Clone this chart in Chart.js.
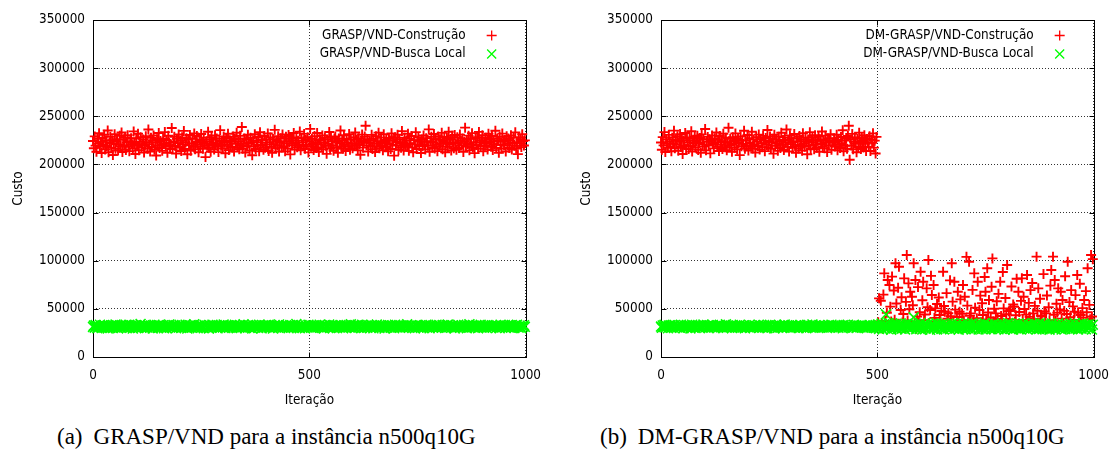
<!DOCTYPE html>
<html><head><meta charset="utf-8">
<script src="https://cdn.jsdelivr.net/npm/chart.js@4.4.0/dist/chart.umd.min.js"></script>
<style>
html,body{margin:0;padding:0;background:#fff;overflow:hidden;width:1119px;height:454px;position:relative;}
.wrap{position:absolute;top:0;width:551px;height:417px;}
.cap{position:absolute;top:424px;font-family:'Liberation Serif','Times New Roman',serif;font-size:23px;line-height:26px;white-space:nowrap;color:#000;}
.gap{display:inline-block;width:11px;}
</style></head><body>
<div class="wrap" style="left:0"><canvas id="cA" width="551" height="417"></canvas></div>
<div class="wrap" style="left:568px"><canvas id="cB" width="551" height="417"></canvas></div>
<div class="cap" id="capA" style="left:57px">(a)<span class="gap"></span>GRASP/VND para a instância n500q10G</div>
<div class="cap" id="capB" style="left:600px">(b)<span class="gap"></span>DM-GRASP/VND para a instância n500q10G</div>
<script>
// ---------- DATA ----------
const xTicks = [0, 500, 1000];
const yTicks = [0, 50000, 100000, 150000, 200000, 250000, 300000, 350000];
const labelsA = ['GRASP/VND-Construção', 'GRASP/VND-Busca Local'];
const labelsB = ['DM-GRASP/VND-Construção', 'DM-GRASP/VND-Busca Local'];
const xTitle = 'Iteração';
const yTitle = 'Custo';

// iterations sampled every 2 (0..998)
const iterations = Array.from({length: 500}, (_, i) => i * 2);

const constrA = [
224300,216800,229100,219500,213200,226700,221900,232400,218300,223600,211800,227400,220200,230900,215600,224900,219100,235200,212700,222300,
228600,217400,225100,209800,221700,231300,216200,223900,226300,214500,220800,229700,218900,233100,212900,225600,219900,227900,215100,222700,
230400,218600,213800,224100,227200,220600,216900,234300,222200,210900,226900,219300,231800,214700,223400,228200,217700,221100,225900,212300,
219700,229300,223100,216400,236200,220900,213500,227600,218100,224700,230100,215300,222900,209200,226100,219600,232700,217100,224400,220300,
214100,227100,221300,233600,218700,225300,212100,229900,222600,216600,220100,237800,215900,223700,228800,219200,211400,226500,222100,231100,
217900,224600,213900,228100,220700,234800,216100,222800,227300,210600,225800,219800,230600,214300,221600,226600,218400,232200,215700,223300,
229500,220400,212600,225400,218200,231600,223200,216300,227800,221400,207600,224200,219400,233900,217300,226200,213100,228400,220900,222500,
215400,230200,221200,226800,218800,212800,224800,235600,219300,223800,216700,229000,222400,211600,227500,220500,231900,214900,225200,218500,
223500,217600,228900,213400,226400,221500,232900,218000,224000,215800,229800,220000,238900,216400,222000,227000,212400,225700,219000,230800,
221800,214400,227700,223000,209600,225000,218600,231400,216000,224500,220200,228500,213700,233400,219500,226000,222600,215200,229600,217200,
225500,220800,232100,214000,223200,227900,218200,212000,226300,221000,235900,216800,224300,219700,229200,213300,222800,227200,217500,231200,
218900,224100,213600,228700,221700,216500,230500,223400,210400,226900,219900,225000,232700,215500,222200,228000,217900,224700,220600,234100,
214700,227300,222900,219100,231700,216200,225300,220300,228300,212500,223900,236900,218400,226700,221200,215000,229400,223000,217000,232600,
220700,213000,226100,224500,218000,230000,215700,222400,227600,219300,211000,225900,221600,233700,216600,228600,220100,224000,214200,226800,
229100,217800,223600,212200,227000,221900,235300,218700,224900,216300,230300,220500,213900,226400,222700,219000,231500,215300,225600,221300,
216800,228100,222000,233200,219400,225800,214600,227100,220900,210100,224400,231000,217400,223100,228900,240200,219800,226200,213500,222500,
224700,219100,230700,215900,226600,221400,212900,229300,218500,224200,233000,216700,222300,227800,220000,214800,231300,223700,218100,225400,
221900,213700,227400,224800,216100,232300,220400,225100,209100,228200,219600,223300,230900,215100,226000,221700,217300,234600,222900,214500,
227700,220200,224600,218300,231900,214100,226500,222100,229500,217700,212700,225200,220800,233500,216000,224900,228000,219200,223800,211900,
225900,218800,230100,221100,215600,227200,223500,219500,236400,213200,224100,228800,217600,222600,231600,216500,226300,220600,213800,229000,
219000,226100,221500,232800,215800,224300,228500,212600,222200,227500,218200,234000,220700,225600,214400,229700,223100,216900,230600,221800,
215200,228300,222500,217000,231000,224600,219700,226800,213000,223400,238200,218600,225500,221200,229900,214600,227000,220300,232500,217500,
223000,211700,226700,220100,228400,216200,233800,222800,218900,225000,230400,213600,224000,219400,227600,221600,215500,231800,222400,226400,
218300,229600,214900,223900,221000,235000,217200,226600,224700,212200,228700,220400,216600,232000,223600,219900,225300,213400,229300,221400,
226900,217100,224500,230200,215400,222300,227900,219300,233300,216400,223200,210700,228100,221900,225700,218000,231400,224200,219600,225000
];

const buscaA = [
31200,32600,30400,33100,31800,29900,32300,30900,33500,31500,30200,32800,31000,33300,30700,32000,31400,29700,32900,31700,
30500,33000,31900,30100,32500,31300,33700,30800,32100,29800,31600,32700,30300,33200,31100,32400,30600,31900,33600,30000,
32200,31000,33400,30400,31700,32900,29600,31500,32600,30900,33100,31300,30100,32300,31800,34300,30700,32000,31200,33000,
29900,32500,31100,30600,33300,31900,30300,32800,31400,29700,32100,33500,30800,31600,32400,30200,33200,31000,32700,30500,
31800,33000,30000,32200,31300,29800,32900,31500,33800,30600,32000,31100,30400,33100,31700,32600,29900,31200,32300,30900,
33400,31400,30200,32700,31000,32100,30700,33600,31600,29600,32400,30900,33000,31800,30300,32800,31300,34100,30600,32000,
31500,29900,32600,31100,33200,30400,32200,31700,30000,33300,31900,32500,30800,31200,29700,32900,31400,30500,33500,32100,
30700,32300,31800,33100,29800,31600,32800,30300,31900,32400,30900,33700,31300,30100,32000,31500,33000,30600,32700,31100,
32900,30200,31400,32100,33400,31000,29900,32600,31700,30500,33100,31200,32300,30800,34000,31600,30000,32500,31900,33200,
31300,32700,30600,31800,29700,33300,32000,30400,31500,32800,31100,30200,33600,31700,32200,29800,31400,32900,30700,33000,
30900,32400,31600,33500,30100,31900,32600,31200,29600,32100,33200,30800,31500,32700,30300,33800,31000,32300,31700,30500,
32500,31100,30700,33000,31800,32200,30000,31400,33300,30600,32900,31600,30200,32000,31300,34200,30900,32400,31000,29900,
31700,33100,30400,32300,31500,29800,32800,31100,30600,33400,31900,32100,30300,31800,32600,30100,33000,31300,32500,31600,
30800,32000,33500,31200,30500,32700,31700,29700,33200,31400,32400,30900,31600,33700,30200,32200,31000,32900,30700,31900,
33000,31500,30100,32500,31800,30600,33300,31300,32000,29900,31600,32800,30400,33100,31200,32300,30800,31700,34000,30300,
31400,32900,31000,30200,32600,31900,33600,30700,31500,32100,30000,33400,31800,32400,30600,31100,32700,30300,33200,31600,
32100,30500,33100,31700,29800,32500,31300,30900,33700,31400,32200,30100,31900,33000,30800,32600,31500,29600,32000,31200,
30600,33300,31800,32400,30300,31000,32900,31600,30000,33500,31200,32700,30700,31900,33200,30400,32300,31400,30900,32800,
31900,30800,32200,33900,31100,30400,32600,31700,33000,30200,31500,32100,29900,33300,31800,32500,30600,31200,32900,31000,
32400,31300,30000,32800,31600,33400,30700,32000,31200,29800,33100,31900,32300,30500,31400,32700,30900,33600,31700,30300,
31100,32600,31500,30600,33200,31800,32100,30100,31300,32900,33700,30800,31600,32400,30300,31900,33000,31000,29700,32200,
30900,31700,33500,32000,30400,31200,32800,31500,30700,33300,31800,32200,30000,31400,32600,34100,30600,31900,32300,31100,
32700,30300,31600,33100,31900,29900,32400,31000,33400,30800,32000,31300,30500,32900,31700,30200,33200,31500,32100,30600,
31300,33000,30900,32300,31600,32700,30100,31800,32500,31100,29800,33500,31400,30700,32200,31900,33100,30400,31700,32600,
30800,31500,32900,30500,33300,31200,32000,30200,31800,32400,33600,31000,30600,32700,31300,29900,32100,31600,33000,31400
];

// DM-GRASP construction: iterations 0..498 (before mining)
const constrB_phase1 = [
222800,215300,228400,219800,233600,212900,226300,221500,217200,230700,224100,218500,213700,227800,222000,235100,216900,225400,220600,229300,
214200,223700,231500,218100,226500,210800,224900,220100,232600,216400,228000,222700,215900,226900,219200,234400,213300,225100,221800,228900,
217600,224300,229800,215100,222300,227400,212200,231200,220800,225900,218700,236800,214600,223400,228600,219700,226100,211500,224600,230000,
221200,216700,227100,222900,233100,218300,225600,213900,229500,220400,224000,216000,231800,223000,217900,227700,214800,222500,238100,219500,
226700,220900,213100,228200,224400,217400,232200,221600,215600,226400,223200,209700,229100,218900,225200,221300,234900,216200,224700,220000,
230500,214500,227300,222200,218600,233900,216600,225800,220700,212400,228400,223800,219100,231000,215400,226300,222100,217800,229700,224800,
213800,227500,220300,235700,218000,224200,229000,216300,222600,226600,211200,230800,219400,225500,221700,214100,228700,223500,217100,232900,
220500,225300,215000,228100,222400,236300,218200,224600,213500,230200,221100,226900,217600,223300,231600,219000,212100,227200,224100,216500,
229400,220200,225700,214300,232400,221900,218400,227600,223700,210500,226000,219800,233500,216100,224900,228300,222800,215700,230400,220900,
217300,224500,228800,213200,226200,221400,234200,218800,225000,216800,229900,223100,212800,227000,219900,224300,231300,215200,222700,222900,
226800,218700,223900,230900,214700,225400,220500,217000,228500,222100,235500,213600,224800,219300,227400,216400,229600,240100,204800,225800,
219600,231700,215800,223600,227900,221800,212600,226500,218100,233000,222600,216100,228000,224400,217700,230300,221300,214000,226400,223200,
218400,229200,213900,225900,222500,232300,217500,224700,211300,228600
];

// DM-GRASP construction: iterations 500..998 (after mining)
const constrB_phase2 = [
33500,36200,60900,31800,58400,35100,29700,64800,86900,37400,
34200,45900,80000,30600,74800,52300,36900,83500,32800,69100,
38700,97300,55600,33100,71900,93800,30100,48800,62100,35800,
44700,81700,31200,57300,105900,37900,76500,49600,67800,32400,
62600,53800,97300,34700,80000,29400,41900,72600,36100,46500,
88600,33700,58900,78200,38300,44100,30800,71300,51700,100700,
35400,48800,84300,64400,32100,74800,40600,50500,36700,55100,
31500,61800,43600,37200,47800,33900,88600,52900,47000,30400,
66300,39800,45400,34600,79600,42300,97300,57500,36400,78200,
49200,31900,41500,67800,35600,47000,59800,32700,44900,74800,
38100,62600,30900,104000,53400,36300,99000,42800,45300,33300,
69700,37600,86900,51200,34400,40200,78200,29800,48800,63700,
35900,55800,43600,31400,83100,67800,38900,92100,46200,59200,
33000,41100,72900,102400,36800,50100,30300,45300,57900,39400,
65600,34900,78200,42600,37100,88300,50500,32600,61300,44400,
95500,35300,47600,39100,48800,73200,31100,54600,52200,36600,
43300,81200,34100,67800,46800,30700,58300,81700,38400,62600,
49900,32300,44000,85200,37700,56200,41700,69500,33600,76900,
45300,39600,53100,31000,104200,48100,71300,35200,60500,42900,
41900,34000,86100,47300,36500,45300,63900,30200,51600,38000,
74100,90300,33800,104200,43900,80000,37300,55300,46100,71300,
32900,49400,67800,39900,59200,35000,47900,83800,31600,44600,
99000,36000,57000,41300,69500,33200,52600,38600,47000,64300,
30500,85200,45800,37800,76100,43600,34300,50800,40900,59200,
32000,68400,46400,92100,35500,54100,39300,105900,42100,101600
];

// DM-GRASP local search: iterations 0..498
const buscaB_phase1 = [
31600,30300,32800,31100,33400,30700,32200,31800,29800,32600,31300,33000,30500,31900,32400,30100,33300,31500,32000,30900,
32900,31200,30400,33600,31700,32300,30000,31400,32700,31000,33100,30600,31800,32500,29700,31300,33500,30800,32100,31600,
30200,32400,31900,33200,30700,31500,32800,31100,30300,33700,31800,32200,30900,31400,32600,30000,33000,31700,32300,31200,
33300,30600,31800,32100,31000,32900,30400,31600,33400,30800,32500,31300,29900,32000,31500,34000,30500,32700,31100,31900,
31400,32600,30100,33100,31900,30700,32300,31200,32800,30300,31700,33500,31000,32400,30600,31600,32900,29800,32200,31300,
32000,31500,33300,30200,31800,32700,31100,30500,33000,31700,32100,30900,31400,33600,30400,32500,31200,32000,30800,33200,
30600,32300,31600,30000,32800,31900,33400,31000,30700,32200,31500,29700,33100,31800,32400,30300,31300,32900,31700,30900,
32500,31200,30400,33700,31600,32000,30800,31900,32600,31100,30200,33200,31400,32300,30600,31800,33000,31000,32700,30100,
31900,33100,30700,32200,31300,30500,32800,31700,29900,33400,31100,32400,30900,31600,32100,33800,30300,31500,32600,31000,
30800,32000,31500,33300,30400,31800,32500,31200,30600,33000,31900,32200,30100,31400,32900,31100,30700,33500,31700,32300,
31300,30900,32700,31600,33100,30300,32100,31800,31000,32400,29800,33200,31500,30600,32000,31900,33600,30800,31400,32600,
32200,31100,30500,33400,31700,32800,30200,31300,32500,31800,30900,32100,33000,31500,30400,31900,32700,31200,30000,32400,
31600,33300,30700,32000,31400,32600,30300,31800,33100,31000
];

// DM-GRASP local search: iterations 500..998
const buscaB_phase2 = [
30400,33800,29100,32600,31200,34700,28700,31900,33100,30000,44300,29600,32300,35200,30800,33500,28400,31600,34100,29900,
32800,30600,34400,28900,31400,33200,30100,35000,29300,32500,31000,33900,28600,31800,34600,30300,32100,29500,33400,31100,
29800,33600,41200,31500,34200,28800,32700,30500,33000,29200,35300,31300,28500,32400,30900,34500,29700,32000,33700,30200,
31700,28300,33300,30700,34900,29400,32200,31000,35400,28700,31900,33800,30400,32900,29000,34300,31200,28600,33100,30800,
34000,29600,32400,31400,28900,33500,30300,35100,31800,29300,32600,30000,34700,31100,28400,33200,30600,32300,29700,34400,
30900,33000,28800,32100,34800,29900,31600,33700,30200,28500,35000,31300,32800,29400,33900,30700,31800,28700,34200,30100,
32500,29100,33400,31000,35300,28600,32000,30600,34100,29800,31500,33300,28900,32700,30400,34600,29500,31900,33600,30000,
28800,33100,31700,29300,34500,30800,32300,28400,33800,31200,29600,35200,30500,32600,29000,34000,31400,28700,33000,30300,
33700,30100,32100,34900,29200,31800,28500,33400,30700,35100,29700,32400,31100,28900,34300,30400,32800,29400,33200,31600,
29900,34700,30600,32200,28600,33600,31300,29100,35400,30200,32900,28800,33900,31500,30000,34400,29300,32500,31000,28400,
33300,30900,34800,29500,32000,31700,28700,33500,30400,35000,29800,32700,31200,28500,34100,30600,32300,29000,33800,31400,
30000,32600,29200,34600,31100,28900,33100,30500,35300,29600,32200,31800,28600,34000,30800,33400,29400,31500,34900,30200,
32900,28800,33700,31300,29700,34300,30600,32400,28500,33600
];

const constrB = constrB_phase1.concat(constrB_phase2);
const buscaB = buscaB_phase1.concat(buscaB_phase2);

// ---------- STYLE ----------
const FONT_FAMILY = "'DejaVu Sans Condensed', 'DejaVu Sans', sans-serif";
const FONT_SIZE = 13.4;
const font = {family: FONT_FAMILY, size: FONT_SIZE};

function pts(vals) { return vals.map((v, i) => ({x: iterations[i], y: v})); }

const framePlugin = {
  id: 'gnuFrame',
  beforeDatasetsDraw(chart) {
    const {ctx, chartArea: a, scales: {x, y}} = chart;
    const L = Math.round(a.left) + 0.5, R = Math.round(a.right) + 0.5;
    const T = Math.round(a.top) + 0.5, B = Math.round(a.bottom) + 0.5;
    ctx.save();
    ctx.strokeStyle = '#000';
    ctx.lineWidth = 1;
    ctx.setLineDash([]);
    ctx.strokeRect(L, T, R - L, B - T);
    ctx.beginPath();
    x.ticks.forEach(t => {
      const px = Math.round(x.getPixelForValue(t.value)) + 0.5;
      ctx.moveTo(px, B); ctx.lineTo(px, B - 5);
      ctx.moveTo(px, T); ctx.lineTo(px, T + 5);
    });
    y.ticks.forEach(t => {
      const py = Math.round(y.getPixelForValue(t.value)) + 0.5;
      ctx.moveTo(L, py); ctx.lineTo(L + 5, py);
      ctx.moveTo(R, py); ctx.lineTo(R - 5, py);
    });
    ctx.stroke();
    ctx.restore();
  }
};

const keyPlugin = {
  id: 'gnuKey',
  afterDraw(chart) {
    const {ctx, chartArea: a} = chart;
    ctx.save();
    ctx.font = FONT_SIZE + 'px ' + FONT_FAMILY;
    ctx.fillStyle = '#000';
    ctx.textAlign = 'right';
    ctx.textBaseline = 'middle';
    chart.data.datasets.forEach((ds, i) => {
      const yy = a.top + 15.5 + i * 18.5;
      ctx.fillText(ds.label, a.right - 60, yy);
      const mx = a.right - 34;
      ctx.strokeStyle = ds.borderColor;
      ctx.lineWidth = 1.3;
      ctx.beginPath();
      if (ds.pointStyle === 'cross') {
        ctx.moveTo(mx - 5, yy); ctx.lineTo(mx + 5, yy);
        ctx.moveTo(mx, yy - 5); ctx.lineTo(mx, yy + 5);
      } else {
        ctx.moveTo(mx - 4.5, yy - 4.5); ctx.lineTo(mx + 4.5, yy + 4.5);
        ctx.moveTo(mx - 4.5, yy + 4.5); ctx.lineTo(mx + 4.5, yy - 4.5);
      }
      ctx.stroke();
    });
    ctx.restore();
  }
};

function makeConfig(labels, constr, busca) {
  return {
    type: 'scatter',
    data: {
      datasets: [
        {label: labels[0], data: pts(constr), pointStyle: 'cross', pointRadius: 5, pointHoverRadius: 5,
         borderColor: '#ff0000', backgroundColor: '#ff0000', borderWidth: 1.9, order: 2, clip: false},
        {label: labels[1], data: pts(busca), pointStyle: 'crossRot', pointRadius: 7, pointHoverRadius: 7,
         borderColor: '#00ff00', backgroundColor: '#00ff00', borderWidth: 1.6, order: 1, clip: false}
      ]
    },
    options: {
      responsive: false,
      animation: false,
      devicePixelRatio: 1,
      events: [],
      layout: {autoPadding: false, padding: {left: 4, right: 18, top: 20, bottom: 0}},
      plugins: {legend: {display: false}, tooltip: {enabled: false}},
      scales: {
        x: {
          type: 'linear', min: 0, max: 1000,
          afterBuildTicks: s => { s.ticks = xTicks.map(v => ({value: v})); },
          afterFit: s => { s.height = 60; },
          ticks: {font, color: '#000', padding: 10, maxRotation: 0, autoSkip: false, callback: v => String(v)},
          grid: {color: 'rgba(0,0,0,0.8)', lineWidth: 1, drawTicks: false},
          border: {display: false, dash: [1, 2]},
          title: {display: true, text: xTitle, font, color: '#000', padding: {top: 0, bottom: 8}}
        },
        y: {
          type: 'linear', min: 0, max: 350000,
          afterBuildTicks: s => { s.ticks = yTicks.map(v => ({value: v})); },
          afterFit: s => { s.width = 89; },
          ticks: {font, color: '#000', padding: 8, autoSkip: false, callback: v => String(v)},
          grid: {color: 'rgba(0,0,0,0.8)', lineWidth: 1, drawTicks: false},
          border: {display: false, dash: [1, 2]},
          title: {display: true, text: yTitle, font, color: '#000', padding: {top: 6, bottom: 0}}
        }
      }
    },
    plugins: [framePlugin, keyPlugin]
  };
}

new Chart(document.getElementById('cA'), makeConfig(labelsA, constrA, buscaA));
new Chart(document.getElementById('cB'), makeConfig(labelsB, constrB, buscaB));
</script>
</body></html>
